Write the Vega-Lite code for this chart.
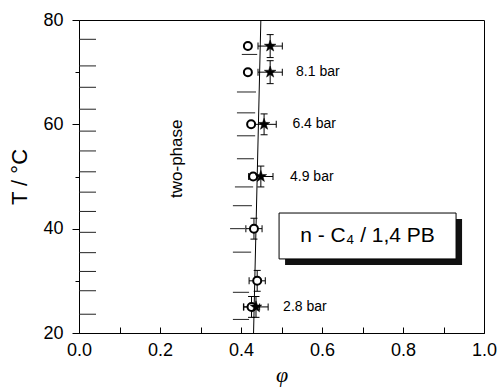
{
  "$schema": "https://vega.github.io/schema/vega-lite/v6.json",
  "width": 405,
  "height": 313,
  "autosize": {"type": "none"},
  "padding": {"left": 79, "top": 20, "right": 16, "bottom": 58},
  "config": {
    "font": "Liberation Sans",
    "view": {"stroke": "#000", "strokeWidth": 1},
    "axis": {
      "grid": false,
      "domainColor": "#000",
      "tickColor": "#000",
      "labelColor": "#000",
      "titleColor": "#000",
      "labelFontSize": 18,
      "titleFontWeight": "normal",
      "labelFlush": false,
      "labelOverlap": false
    }
  },
  "datasets": {
    "circles": [
      {"T": 75, "phi": 0.417},
      {"T": 70, "phi": 0.417},
      {"T": 60, "phi": 0.425},
      {"T": 50, "phi": 0.43},
      {"T": 40, "phi": 0.432},
      {"T": 30, "phi": 0.44},
      {"T": 25, "phi": 0.426}
    ],
    "errors": [
      {"T": 75, "phi": 0.472, "phiLo": 0.442, "phiHi": 0.502, "TLo": 72.8, "THi": 77.2},
      {"T": 70, "phi": 0.472, "phiLo": 0.442, "phiHi": 0.502, "TLo": 67.8, "THi": 72.2},
      {"T": 60, "phi": 0.457, "phiLo": 0.427, "phiHi": 0.487, "TLo": 58.0, "THi": 62.0},
      {"T": 50, "phi": 0.449, "phiLo": 0.419, "phiHi": 0.479, "TLo": 48.0, "THi": 52.0},
      {"T": 25, "phi": 0.437, "phiLo": 0.407, "phiHi": 0.467, "TLo": 23.0, "THi": 27.0},
      {"T": 40, "phi": 0.432, "phiLo": 0.412, "phiHi": 0.452, "TLo": 38.0, "THi": 42.0},
      {"T": 30, "phi": 0.44, "phiLo": 0.42, "phiHi": 0.46, "TLo": 28.0, "THi": 32.0},
      {"T": 25, "phi": 0.426, "phiLo": 0.406, "phiHi": 0.446, "TLo": 23.0, "THi": 27.0}
    ],
    "stars": [
      {"T": 75, "phi": 0.472},
      {"T": 70, "phi": 0.472},
      {"T": 60, "phi": 0.457},
      {"T": 50, "phi": 0.449},
      {"T": 25, "phi": 0.437}
    ],
    "labels": [
      {"text": "8.1 bar", "T": 70, "phi": 0.536},
      {"text": "6.4 bar", "T": 60, "phi": 0.527},
      {"text": "4.9 bar", "T": 50, "phi": 0.521},
      {"text": "2.8 bar", "T": 25, "phi": 0.504}
    ],
    "hatch": [
      {"T": 76.3, "a": 0.0, "b": 0.042},
      {"T": 71.2, "a": 0.0, "b": 0.042},
      {"T": 67.1, "a": 0.0, "b": 0.042},
      {"T": 62.9, "a": 0.0, "b": 0.042},
      {"T": 58.7, "a": 0.0, "b": 0.042},
      {"T": 54.9, "a": 0.0, "b": 0.042},
      {"T": 50.9, "a": 0.0, "b": 0.042},
      {"T": 47.0, "a": 0.0, "b": 0.042},
      {"T": 43.3, "a": 0.0, "b": 0.042},
      {"T": 39.3, "a": 0.0, "b": 0.042},
      {"T": 35.4, "a": 0.0, "b": 0.042},
      {"T": 31.8, "a": 0.0, "b": 0.042},
      {"T": 28.1, "a": 0.0, "b": 0.042},
      {"T": 23.6, "a": 0.0, "b": 0.042},
      {"T": 73.4, "a": 0.402, "b": 0.44},
      {"T": 66.2, "a": 0.39, "b": 0.437},
      {"T": 62.2, "a": 0.39, "b": 0.435},
      {"T": 57.8, "a": 0.39, "b": 0.435},
      {"T": 53.4, "a": 0.39, "b": 0.432},
      {"T": 48.0, "a": 0.385, "b": 0.43},
      {"T": 44.4, "a": 0.38, "b": 0.427},
      {"T": 40.0, "a": 0.373, "b": 0.41},
      {"T": 35.5, "a": 0.38, "b": 0.425},
      {"T": 27.8, "a": 0.38, "b": 0.42},
      {"T": 22.6, "a": 0.38, "b": 0.42}
    ],
    "boundary": [{"phi": 0.431, "T": 20, "phi2": 0.449, "T2": 80}],
    "one": [{"name": "box"}]
  },
  "layer": [
    {
      "data": {"name": "hatch"},
      "mark": {"type": "rule", "color": "#222", "strokeWidth": 1},
      "encoding": {
        "x": {
          "field": "a", "type": "quantitative", "title": "φ",
          "scale": {"domain": [0, 1], "nice": false, "zero": false},
          "axis": {
            "values": [0, 0.1, 0.2, 0.3, 0.4, 0.5, 0.6, 0.7, 0.8, 0.9, 1.0],
            "format": ".1f",
            "labelExpr": "round(datum.value * 10) % 2 === 0 ? datum.label : ''",
            "tickSize": -6,
            "labelPadding": 14,
            "titleFont": "Liberation Serif",
            "titleFontStyle": "italic",
            "titleFontSize": 22,
            "titlePadding": 5
          }
        },
        "x2": {"field": "b"},
        "y": {
          "field": "T", "type": "quantitative", "title": "T / °C",
          "scale": {"domain": [20, 80], "nice": false, "zero": false},
          "axis": {
            "values": [20, 30, 40, 50, 60, 70, 80],
            "labelExpr": "datum.value % 20 === 0 ? datum.label : ''",
            "tickSize": {"condition": {"test": "datum.value % 20 === 0", "value": 7}, "value": 4},
            "labelPadding": 9,
            "titleFontSize": 22,
            "titlePadding": 11
          }
        }
      }
    },
    {
      "data": {"name": "boundary"},
      "mark": {"type": "rule", "color": "#000", "strokeWidth": 1},
      "encoding": {
        "x": {"field": "phi", "type": "quantitative", "title": "φ"},
        "x2": {"field": "phi2"},
        "y": {"field": "T", "type": "quantitative", "title": "T / °C"},
        "y2": {"field": "T2"}
      }
    },
    {
      "data": {"name": "one"},
      "mark": {"type": "rect", "fill": "#111", "xOffset": 6, "x2Offset": 6, "yOffset": 6, "y2Offset": 6},
      "encoding": {
        "x": {"datum": 0.494, "type": "quantitative", "title": "φ"},
        "x2": {"datum": 0.931},
        "y": {"datum": 43.0, "type": "quantitative", "title": "T / °C"},
        "y2": {"datum": 34.2}
      }
    },
    {
      "data": {"name": "one"},
      "mark": {"type": "rect", "fill": "#fff", "stroke": "#000", "strokeWidth": 1},
      "encoding": {
        "x": {"datum": 0.494, "type": "quantitative", "title": "φ"},
        "x2": {"datum": 0.931},
        "y": {"datum": 43.0, "type": "quantitative", "title": "T / °C"},
        "y2": {"datum": 34.2}
      }
    },
    {
      "data": {"name": "one"},
      "mark": {"type": "text", "fontSize": 21, "align": "center", "baseline": "middle", "color": "#000", "text": "n - C₄ / 1,4 PB"},
      "encoding": {
        "x": {"datum": 0.7125, "type": "quantitative", "title": "φ"},
        "y": {"datum": 38.6, "type": "quantitative", "title": "T / °C"}
      }
    },
    {
      "data": {"name": "one"},
      "mark": {"type": "text", "fontSize": 17, "angle": 270, "align": "center", "baseline": "middle", "color": "#000", "text": "two-phase"},
      "encoding": {
        "x": {"datum": 0.242, "type": "quantitative", "title": "φ"},
        "y": {"datum": 53.4, "type": "quantitative", "title": "T / °C"}
      }
    },
    {
      "data": {"name": "labels"},
      "mark": {"type": "text", "fontSize": 14, "align": "left", "baseline": "middle", "color": "#000"},
      "encoding": {
        "x": {"field": "phi", "type": "quantitative", "title": "φ"},
        "y": {"field": "T", "type": "quantitative", "title": "T / °C"},
        "text": {"field": "text"}
      }
    },
    {
      "data": {"name": "errors"},
      "mark": {"type": "rule", "color": "#000", "strokeWidth": 1},
      "encoding": {
        "x": {"field": "phiLo", "type": "quantitative", "title": "φ"},
        "x2": {"field": "phiHi"},
        "y": {"field": "T", "type": "quantitative", "title": "T / °C"}
      }
    },
    {
      "data": {"name": "errors"},
      "mark": {"type": "rule", "color": "#000", "strokeWidth": 1},
      "encoding": {
        "x": {"field": "phi", "type": "quantitative", "title": "φ"},
        "y": {"field": "TLo", "type": "quantitative", "title": "T / °C"},
        "y2": {"field": "THi"}
      }
    },
    {
      "data": {"name": "errors"},
      "mark": {"type": "tick", "orient": "vertical", "color": "#000", "size": 7, "thickness": 1, "opacity": 1},
      "encoding": {
        "x": {"field": "phiLo", "type": "quantitative", "title": "φ"},
        "y": {"field": "T", "type": "quantitative", "title": "T / °C"}
      }
    },
    {
      "data": {"name": "errors"},
      "mark": {"type": "tick", "orient": "vertical", "color": "#000", "size": 7, "thickness": 1, "opacity": 1},
      "encoding": {
        "x": {"field": "phiHi", "type": "quantitative", "title": "φ"},
        "y": {"field": "T", "type": "quantitative", "title": "T / °C"}
      }
    },
    {
      "data": {"name": "errors"},
      "mark": {"type": "tick", "orient": "horizontal", "color": "#000", "size": 7, "thickness": 1, "opacity": 1},
      "encoding": {
        "x": {"field": "phi", "type": "quantitative", "title": "φ"},
        "y": {"field": "TLo", "type": "quantitative", "title": "T / °C"}
      }
    },
    {
      "data": {"name": "errors"},
      "mark": {"type": "tick", "orient": "horizontal", "color": "#000", "size": 7, "thickness": 1, "opacity": 1},
      "encoding": {
        "x": {"field": "phi", "type": "quantitative", "title": "φ"},
        "y": {"field": "THi", "type": "quantitative", "title": "T / °C"}
      }
    },
    {
      "data": {"name": "circles"},
      "mark": {"type": "point", "shape": "circle", "filled": false, "fill": "#fff", "fillOpacity": 1, "stroke": "#000", "strokeWidth": 2, "size": 64, "opacity": 1},
      "encoding": {
        "x": {"field": "phi", "type": "quantitative", "title": "φ"},
        "y": {"field": "T", "type": "quantitative", "title": "T / °C"}
      }
    },
    {
      "data": {"name": "stars"},
      "mark": {"type": "point", "shape": "M0,-1L0.235,-0.324L0.951,-0.309L0.38,0.124L0.588,0.809L0,0.4L-0.588,0.809L-0.38,0.124L-0.951,-0.309L-0.235,-0.324Z", "filled": true, "fill": "#000", "stroke": "#000", "strokeWidth": 0.5, "size": 150, "opacity": 1},
      "encoding": {
        "x": {"field": "phi", "type": "quantitative", "title": "φ"},
        "y": {"field": "T", "type": "quantitative", "title": "T / °C"}
      }
    }
  ]
}
